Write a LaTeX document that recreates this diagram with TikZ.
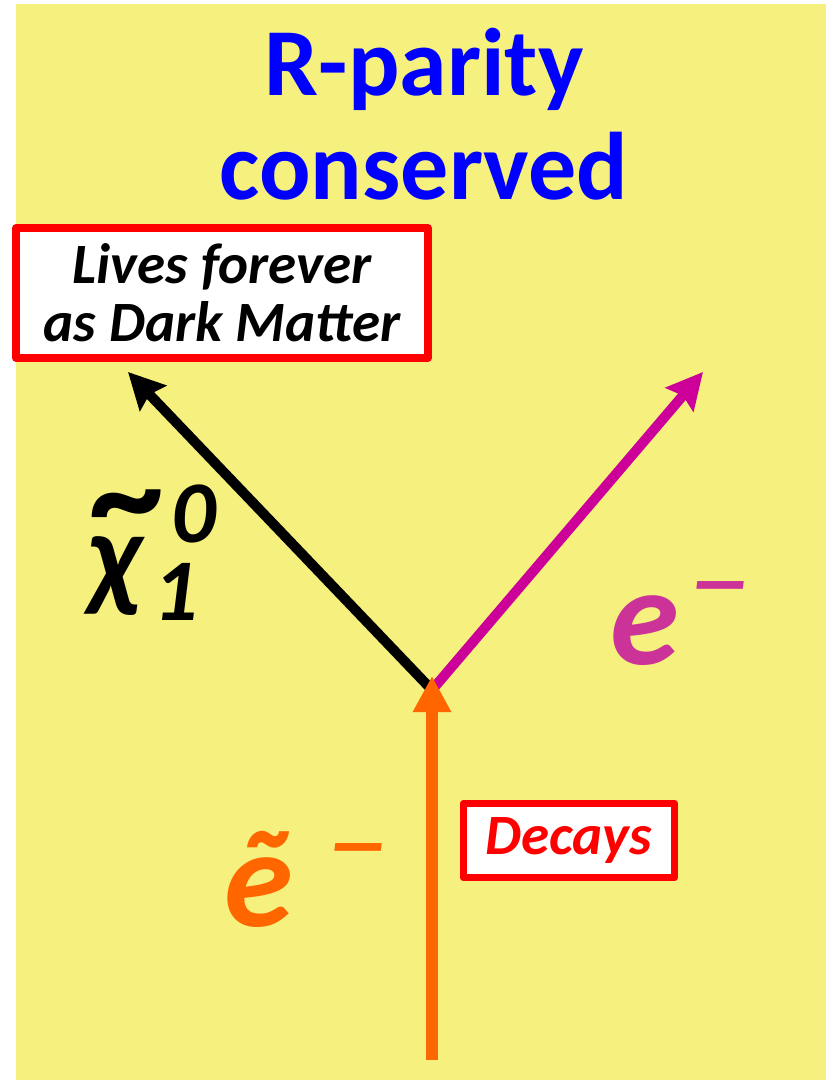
\documentclass[tikz,border=0pt]{standalone}
\usepackage{fontspec}
\setmainfont{Carlito}
\usetikzlibrary{arrows.meta}
\definecolor{padyellow}{RGB}{246,240,126}
\definecolor{ttlblue}{RGB}{0,0,255}
\definecolor{boxred}{RGB}{255,0,0}
\definecolor{selorange}{RGB}{255,102,0}
\definecolor{elecmag}{RGB}{204,0,153}
\definecolor{elecpink}{RGB}{204,51,153}
\tikzset{redbox/.style={draw=boxred,line width=7.5pt,fill=white,inner sep=0pt,align=center,
    font=\fontsize{57}{58}\selectfont\bfseries\itshape},
  ttl/.style={text=ttlblue,anchor=base,font=\fontsize{96}{104}\selectfont\bfseries},
  bigsym/.style={anchor=base west,font=\fontsize{140}{140}\selectfont\bfseries\itshape},
  leg/.style={line width=10pt,-{Stealth[length=36pt,width=36pt,inset=5pt]}}}
\newcommand\idxfont{\fontsize{88}{88}\selectfont}
\newcommand\dashfont{\fontsize{130}{130}\selectfont\mdseries}
\newcommand\tildfont{\fontsize{150}{150}\selectfont}

\begin{document}
\begin{tikzpicture}[x=1pt,y=-1pt,line join=round]
\useasboundingbox (0,0) rectangle (831,1081);
\fill[padyellow] (16,4) rectangle (826,1080);
% --- title
\node[ttl] (ttlA) at (424,95) {R-parity};
\node[ttl] (ttlB) at ([yshift=-104pt]ttlA.base) {conserved};
% --- vertex and the three lines
\coordinate (vtx) at (432,690);
\coordinate (neuTip) at (128,372);
\coordinate (eTip) at (703,372);
\coordinate (selBase) at (432,1060);
\coordinate (selTip) at (432,676);
\draw[leg,black] (vtx) -- (neuTip);
\draw[leg,elecmag] (vtx) -- (eTip);
\draw[selorange,line width=12pt,-{Triangle[length=36pt,width=36pt]}] (selBase) -- (selTip);
% --- labels
\node[bigsym,font=\fontsize{120}{120}\selectfont\bfseries\itshape] (neuLbl) at (84,595)
  {\rlap{\kern6pt\raisebox{50pt}{\tildfont\textasciitilde}}χ\hspace{12pt}%
   \rlap{\raisebox{-25pt}{\idxfont 1}}\hspace{18pt}\raisebox{53pt}{\idxfont 0}};
\node[bigsym,text=elecpink] (eLbl) at (607,664) {e\hspace{8pt}\raisebox{43pt}{\dashfont –}};
\node[bigsym,text=selorange] (selLbl) at (221,926) {ẽ\hspace{32pt}\raisebox{43pt}{\dashfont –}};
% --- boxes
\node[redbox,minimum width=412pt,minimum height=130pt] (liveBox) at (222,293) {Lives forever\\as Dark Matter};
\node[redbox,text=boxred,minimum width=211pt,minimum height=74pt] (decBox) at (569,840.5) {Decays};
\end{tikzpicture}
\end{document}
